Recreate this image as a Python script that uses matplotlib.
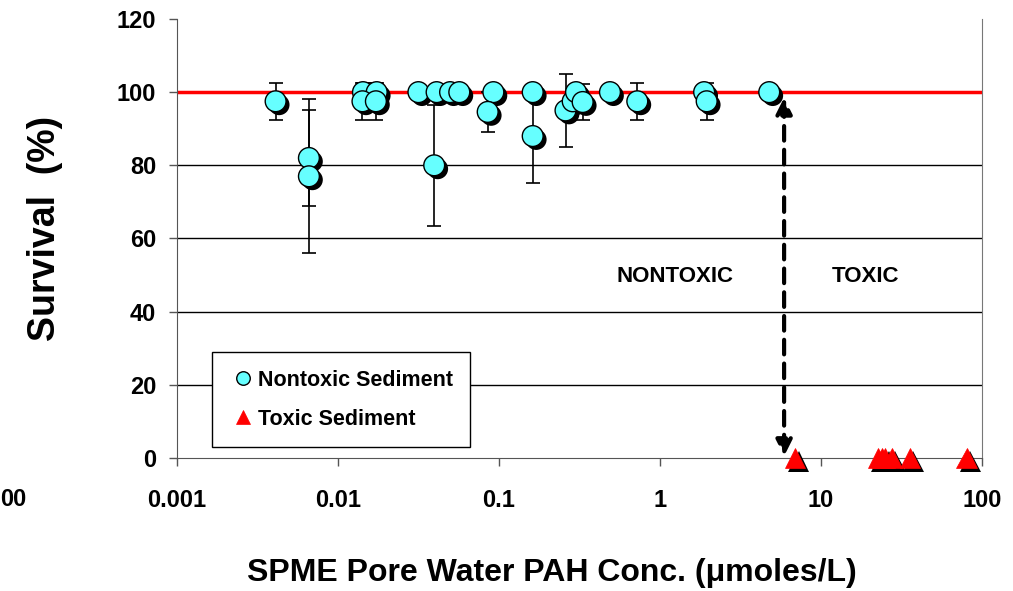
#Survival vs SPME pore water PAH concentration
import matplotlib
matplotlib.use('Agg')
import matplotlib.pyplot as plt
import matplotlib.patheffects as pe

plt.rcParams['font.family'] = ['Liberation Sans', 'DejaVu Sans']
plt.rcParams['font.weight'] = 'bold'

#Nontoxic sediments: concentration, survival, error
nontox_conc = [0.0041, 0.0066, 0.0066, 0.0143, 0.0174, 0.0142, 0.0172,
               0.0316, 0.041, 0.0396, 0.0497, 0.0567, 0.0923, 0.0851,
               0.162, 0.162, 0.259, 0.287, 0.301, 0.331, 0.489, 0.723,
               1.88, 1.95, 4.77]
nontox_surv = [97.5, 82, 77, 100, 100, 97.5, 97.5,
               100, 100, 80, 100, 100, 100, 94.6,
               100, 88, 95, 97.5, 100, 97.3, 100, 97.5,
               100, 97.5, 100]
nontox_err = [5, 13, 21, 2.5, 2.5, 5, 5,
              0, 0, 16.5, 0, 0, 0, 5.4,
              0, 12.7, 10, 0, 0, 5, 0, 5,
              0, 5, 0]

#Toxic sediments
tox_conc = [6.9, 22.7, 24.0, 25.0, 27.5, 35.7, 80.4]
tox_surv = [0, 0, 0, 0, 0, 0, 0]

threshold = 5.9
x_ticks = [0.001, 0.01, 0.1, 1, 10, 100]
x_ticklabels = ['0.001', '0.01', '0.1', '1', '10', '100']
y_ticks = [0, 20, 40, 60, 80, 100, 120]

fig = plt.figure(figsize=(10.13, 5.91), dpi=100)
ax = fig.add_axes([0.1747, 0.2250, 0.7947, 0.7429])

ax.set_xscale('log')
ax.set_xlim(0.001, 100)
ax.set_ylim(0, 120)

#grid lines
for yv in [20, 40, 60, 80]:
    ax.axhline(yv, color='black', lw=1, zorder=1)
ax.axhline(100, color='red', lw=2.5, zorder=2)

ax.errorbar(nontox_conc, nontox_surv, yerr=nontox_err, fmt='none',
            ecolor='black', elinewidth=1.2, capsize=5, capthick=1.2, zorder=3)

shadow = [pe.SimplePatchShadow(offset=(2.5, -2.5), shadow_rgbFace='black', alpha=1),
          pe.Normal()]
ax.plot(nontox_conc, nontox_surv, 'o', ms=15, mfc='#66FFFF', mec='black',
        mew=1, label='Nontoxic Sediment', path_effects=shadow, zorder=4, clip_on=False)
ax.plot(tox_conc, tox_surv, '^', ms=15, mfc='red', mec='red',
        mew=0.5, label='Toxic Sediment', path_effects=shadow, zorder=5, clip_on=False)

#threshold arrow
ax.annotate('', xy=(threshold, 0.5), xytext=(threshold, 98.5),
            arrowprops=dict(arrowstyle='<|-|>', linestyle=(0, (3.5, 2.2)), lw=3,
                            color='black', mutation_scale=24, shrinkA=0, shrinkB=0),
            zorder=6)

ax.text(1.24, 49.5, 'NONTOXIC', ha='center', va='center', fontsize=16, fontweight='bold')
ax.text(19.0, 49.5, 'TOXIC', ha='center', va='center', fontsize=16, fontweight='bold')

ax.set_xticks(x_ticks)
ax.set_xticklabels(x_ticklabels)
ax.set_yticks(y_ticks)
ax.minorticks_off()
ax.tick_params(axis='x', direction='out', length=6, width=1, color='#555555',
               labelsize=17, pad=16)
ax.tick_params(axis='y', direction='out', length=6, width=1, color='#555555',
               labelsize=17, pad=9)
for lab in ax.get_xticklabels() + ax.get_yticklabels():
    lab.set_fontweight('bold')

ax.spines['top'].set_visible(False)
ax.spines['left'].set_color('#555555')
ax.spines['right'].set_color('#777777')
ax.spines['bottom'].set_color('#555555')

leg = ax.legend(loc='lower left', bbox_to_anchor=(0.0435, 0.025), fontsize=15.5,
                markerscale=0.65, handlelength=1.3, handletextpad=0.05,
                labelspacing=0.85, borderpad=0.8, fancybox=False,
                edgecolor='black', framealpha=1, borderaxespad=0)
leg.get_frame().set_linewidth(1)
for t in leg.get_texts():
    t.set_fontweight('bold')
for h in leg.legend_handles:
    h.set_path_effects([])

fig.text(552 / 1013, (591 - 573) / 591, 'SPME Pore Water PAH Conc. (\u03bcmoles/L)',
         ha='center', va='center', fontsize=23, fontweight='bold')
fig.text(45 / 1013, (591 - 228) / 591, 'Survival  (%)', rotation=90,
         ha='center', va='center', fontsize=27, fontweight='bold')
fig.text(0.0, (591 - 500) / 591, '00', ha='left', va='center', fontsize=17,
         fontweight='bold')

plt.savefig('out.png', dpi=100)
